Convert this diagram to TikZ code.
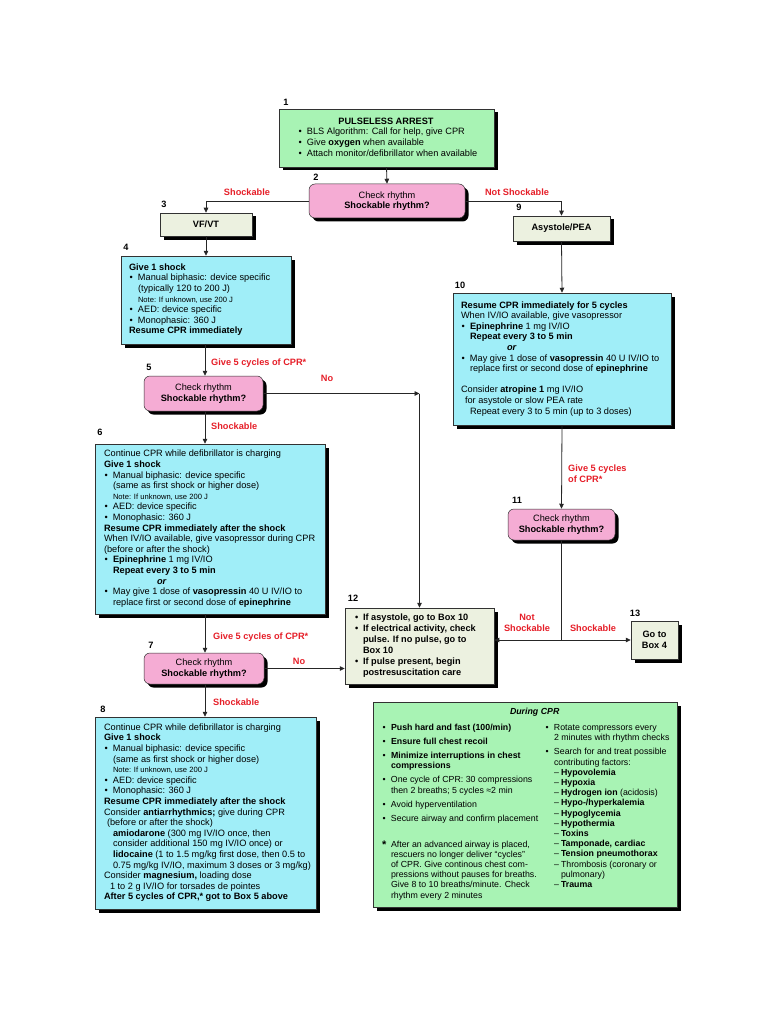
\documentclass[tikz,border=0pt]{standalone}
\usepackage{fontspec}
\setmainfont{Liberation Sans}
\usetikzlibrary{arrows.meta,shadows,calc}
\definecolor{boxgreen}{RGB}{168,243,180}
\definecolor{boxpink}{RGB}{245,172,212}
\definecolor{boxcyan}{RGB}{160,238,248}
\definecolor{boxpale}{RGB}{236,241,224}
\definecolor{lblred}{RGB}{230,30,40}
\definecolor{edgegray}{RGB}{50,50,50}
\newcommand\blk[2]{\makebox[#1][l]{\begin{tabular}{@{}l@{}}#2\end{tabular}}}
\newcommand\bxbul{\makebox[9pt][l]{\hspace{0.5pt}\textbullet}}
\newcommand\bxind{\hspace*{9pt}}
\newcommand\bxdash{\makebox[7pt][l]{–}}
\newcommand\notefont{\fontsize{7.6}{8}\selectfont}
\tikzset{
  base/.style={draw=edgegray, line width=0.5pt, inner sep=0pt,
    font=\fontsize{9.2}{10.6}\selectfont,
    drop shadow={shadow xshift=3.5pt, shadow yshift=-3.5pt, fill=black, opacity=1}},
  greenbox/.style={base, fill=boxgreen},
  cyanbox/.style={base, fill=boxcyan},
  palebox/.style={base, fill=boxpale, align=center},
  pinkbox/.style={base, fill=boxpink, rounded corners=6pt, align=center},
  num/.style={font=\bfseries\fontsize{9.2}{10}\selectfont, inner sep=0pt},
  lbl/.style={font=\bfseries\fontsize{9.2}{11}\selectfont, text=lblred, inner sep=0pt, align=center},
  conn/.style={draw=black!85, line width=0.8pt, -{Triangle[length=5pt,width=4.5pt]}},
  plainline/.style={draw=black!85, line width=0.8pt},
}
\begin{document}
\begin{tikzpicture}[x=1pt,y=-1pt]
\useasboundingbox (0,0) rectangle (768,1024);
\fill[white] (0,0) rectangle (768,1024);

% Box 1
\node[greenbox, minimum width=215pt, minimum height=58pt] (b1) at (386.5,138) {\blk{177pt}{%
\makebox[176pt][c]{\bfseries PULSELESS ARREST}\\
\bxbul BLS Algorithm: Call for help, give CPR\\
\bxbul Give \textbf{oxygen} when available\\
\bxbul Attach monitor/defibrillator when available}};

% Box 2
\node[pinkbox, minimum width=156pt, minimum height=34pt] (b2) at (387,201) {Check rhythm\\\textbf{Shockable rhythm?}};

% Box 3 and 9
\node[palebox, minimum width=92pt, minimum height=23pt] (b3) at (206,224.5) {\textbf{VF/VT}};
\node[palebox, minimum width=97pt, minimum height=25pt] (b9) at (561.5,228.5) {\textbf{Asystole/PEA}};

% Box 4
\node[cyanbox, minimum width=170pt, minimum height=88pt] (b4) at (206,300) {\blk{154pt}{%
\textbf{Give 1 shock}\\
\bxbul Manual biphasic: device specific\\
\bxind(typically 120 to 200 J)\\
\bxind{\notefont Note: If unknown, use 200 J}\\
\bxbul AED: device specific\\
\bxbul Monophasic: 360 J\\
\textbf{Resume CPR immediately}}};

% Box 5
\node[pinkbox, minimum width=119pt, minimum height=35pt] (b5) at (203.5,393.5) {Check rhythm\\\textbf{Shockable rhythm?}};

% Box 6
\node[cyanbox, minimum width=230pt, minimum height=170pt] (b6) at (210,529) {\blk{212pt}{%
Continue CPR while defibrillator is charging\\
\textbf{Give 1 shock}\\
\bxbul Manual biphasic: device specific\\
\bxind(same as first shock or higher dose)\\
\bxind{\notefont Note: If unknown, use 200 J}\\
\bxbul AED: device specific\\
\bxbul Monophasic: 360 J\\
\textbf{Resume CPR immediately after the shock}\\
When IV/IO available, give vasopressor during CPR\\
(before or after the shock)\\
\bxbul\textbf{Epinephrine} 1 mg IV/IO\\
\bxind\textbf{Repeat every 3 to 5 min}\\
\hspace*{53pt}\textbf{\textit{or}}\\
\bxbul May give 1 dose of \textbf{vasopressin} 40 U IV/IO to\\
\bxind replace first or second dose of \textbf{epinephrine}}};

% Box 7
\node[pinkbox, minimum width=120pt, minimum height=31pt] (b7) at (204,668.5) {Check rhythm\\\textbf{Shockable rhythm?}};

% Box 8
\node[cyanbox, minimum width=221pt, minimum height=192pt] (b8) at (205.5,813) {\blk{203pt}{%
Continue CPR while defibrillator is charging\\
\textbf{Give 1 shock}\\
\bxbul Manual biphasic: device specific\\
\bxind(same as first shock or higher dose)\\
\bxind{\notefont Note: If unknown, use 200 J}\\
\bxbul AED: device specific\\
\bxbul Monophasic: 360 J\\
\textbf{Resume CPR immediately after the shock}\\
Consider \textbf{antiarrhythmics;} give during CPR\\
\hspace*{3pt}(before or after the shock)\\
\hspace*{9pt}\textbf{amiodarone} (300 mg IV/IO once, then\\
\hspace*{9pt}consider additional 150 mg IV/IO once) or\\
\hspace*{9pt}\textbf{lidocaine} (1 to 1.5 mg/kg first dose, then 0.5 to\\
\hspace*{9pt}0.75 mg/kg IV/IO, maximum 3 doses or 3 mg/kg)\\
Consider \textbf{magnesium,} loading dose\\
\hspace*{6pt}1 to 2 g IV/IO for torsades de pointes\\
\textbf{After 5 cycles of CPR,* got to Box 5 above}}};

% Box 10
\node[cyanbox, minimum width=218pt, minimum height=132pt] (b10) at (562,359) {\blk{202pt}{%
\textbf{Resume CPR immediately for 5 cycles}\\
When IV/IO available, give vasopressor\\
\bxbul\textbf{Epinephrine} 1 mg IV/IO\\
\bxind\textbf{Repeat every 3 to 5 min}\\
\hspace*{46pt}\textbf{\textit{or}}\\
\bxbul May give 1 dose of \textbf{vasopressin} 40 U IV/IO to\\
\bxind replace first or second dose of \textbf{epinephrine}\\
\\
Consider \textbf{atropine 1} mg IV/IO\\
\hspace*{4pt}for asystole or slow PEA rate\\
\hspace*{9pt}Repeat every 3 to 5 min (up to 3 doses)}};

% Box 11
\node[pinkbox, minimum width=107pt, minimum height=31pt] (b11) at (561.5,524.5) {Check rhythm\\\textbf{Shockable rhythm?}};

% Box 12
\node[palebox, minimum width=149pt, minimum height=76pt, font=\bfseries\fontsize{9.2}{11}\selectfont] (b12) at (419.5,646) {\blk{129pt}{%
\makebox[8pt][l]{\textbullet}If asystole, go to Box 10\\
\makebox[8pt][l]{\textbullet}If electrical activity, check\\
\hspace*{8pt}pulse. If no pulse, go to\\
\hspace*{8pt}Box 10\\
\makebox[8pt][l]{\textbullet}If pulse present, begin\\
\hspace*{8pt}postresuscitation care}};

% Box 13
\node[palebox, minimum width=47pt, minimum height=38pt, font=\bfseries\fontsize{9.2}{11}\selectfont] (b13) at (654.5,640) {Go to\\Box 4};

% During CPR box
\node[greenbox, minimum width=304pt, minimum height=205pt, font=\fontsize{8.8}{10.2}\selectfont] (cpr) at (525,804.5) {\blk{286pt}{%
\hspace*{128pt}\textbf{\textit{During CPR}}\\[5.5pt]
\makebox[163pt][l]{\begin{tabular}[t]{@{}l@{}}
\bxbul\textbf{Push hard and fast (100/min)}\\[3.8pt]
\bxbul\textbf{Ensure full chest recoil}\\[3.8pt]
\bxbul\textbf{Minimize interruptions in chest}\\
\bxind\textbf{compressions}\\[3.8pt]
\bxbul One cycle of CPR: 30 compressions\\
\bxind then 2 breaths; 5 cycles ≈2 min\\[3.8pt]
\bxbul Avoid hyperventilation\\[3.8pt]
\bxbul Secure airway and confirm placement\\[15.8pt]
\makebox[9pt][l]{\raisebox{-1pt}{\bfseries\fontsize{11}{11}\selectfont *}}After an advanced airway is placed,\\
\bxind rescuers no longer deliver “cycles”\\
\bxind of CPR. Give continous chest com-\\
\bxind pressions without pauses for breaths.\\
\bxind Give 8 to 10 breaths/minute. Check\\
\bxind rhythm every 2 minutes
\end{tabular}}\begin{tabular}[t]{@{}l@{}}
\bxbul Rotate compressors every\\
\bxind 2 minutes with rhythm checks\\[3.8pt]
\bxbul Search for and treat possible\\
\bxind contributing factors:\\
\bxind\bxdash\textbf{Hypovolemia}\\
\bxind\bxdash\textbf{Hypoxia}\\
\bxind\bxdash\textbf{Hydrogen ion} (acidosis)\\
\bxind\bxdash\textbf{Hypo-/hyperkalemia}\\
\bxind\bxdash\textbf{Hypoglycemia}\\
\bxind\bxdash\textbf{Hypothermia}\\
\bxind\bxdash\textbf{Toxins}\\
\bxind\bxdash\textbf{Tamponade, cardiac}\\
\bxind\bxdash\textbf{Tension pneumothorax}\\
\bxind\bxdash Thrombosis (coronary or\\
\bxind\hspace*{7pt}pulmonary)\\
\bxind\bxdash\textbf{Trauma}
\end{tabular}}};

% Step numbers
\node[num] (n1) at (286,102) {1};
\node[num] (n2) at (316,177) {2};
\node[num] (n3) at (164,204) {3};
\node[num] (n4) at (126,247) {4};
\node[num] (n5) at (149,367) {5};
\node[num] (n6) at (100,432) {6};
\node[num] (n7) at (151,645) {7};
\node[num] (n8) at (103,709) {8};
\node[num] (n9) at (519,207) {9};
\node[num] (n10) at (460,285) {10};
\node[num] (n11) at (517,500) {11};
\node[num] (n12) at (353,598) {12};
\node[num] (n13) at (635,613) {13};

% Connectors
\coordinate (colL) at (205,0);
\draw[conn] (b1.south) -- (b2.north);
\draw[conn] (b2.west) -| (b3.north);
\draw[conn] (b2.east) -| (b9.north);
\draw[conn] (b3.south) -- (b4.north);
\draw[conn] (colL |- b4.south) -- (colL |- b5.north);
\draw[conn] (colL |- b5.south) -- (colL |- b6.north);
\draw[conn] (colL |- b6.south) -- (colL |- b7.north);
\draw[conn] (colL |- b7.south) -- (colL |- b8.north);
\coordinate (c5) at (b12.north |- b5.east);
\draw[conn] (b5.east) -- (c5);
\draw[conn] (c5) -- (b12.north);
\draw[conn] (b7.east) -- (b7.east -| b12.west);
\draw[conn] (b9.south) -- (b10.north);
\draw[conn] (b10.south) -- (b11.north);
\coordinate (j) at (b11.south |- b13.west);
\draw[plainline] (b11.south) -- (j);
\draw[conn] (j) -- (j -| b12.east);
\draw[conn] (j) -- (b13.west);

% Red labels
\node[lbl] (l1) at (247,192) {Shockable};
\node[lbl] (l2) at (517,192) {Not Shockable};
\node[lbl, anchor=west] (l3) at (211,363) {Give 5 cycles of CPR*};
\node[lbl] (l4) at (327,378) {No};
\node[lbl, anchor=west] (l5) at (211,426) {Shockable};
\node[lbl, anchor=west] (l6) at (213,637) {Give 5 cycles of CPR*};
\node[lbl] (l7) at (299,661) {No};
\node[lbl, anchor=west] (l8) at (213,702) {Shockable};
\node[lbl, anchor=west, align=left] (l9) at (568,474) {Give 5 cycles\\of CPR*};
\node[lbl] (l10) at (527,622.5) {Not\\Shockable};
\node[lbl] (l11) at (593,628) {Shockable};
\end{tikzpicture}
\end{document}
